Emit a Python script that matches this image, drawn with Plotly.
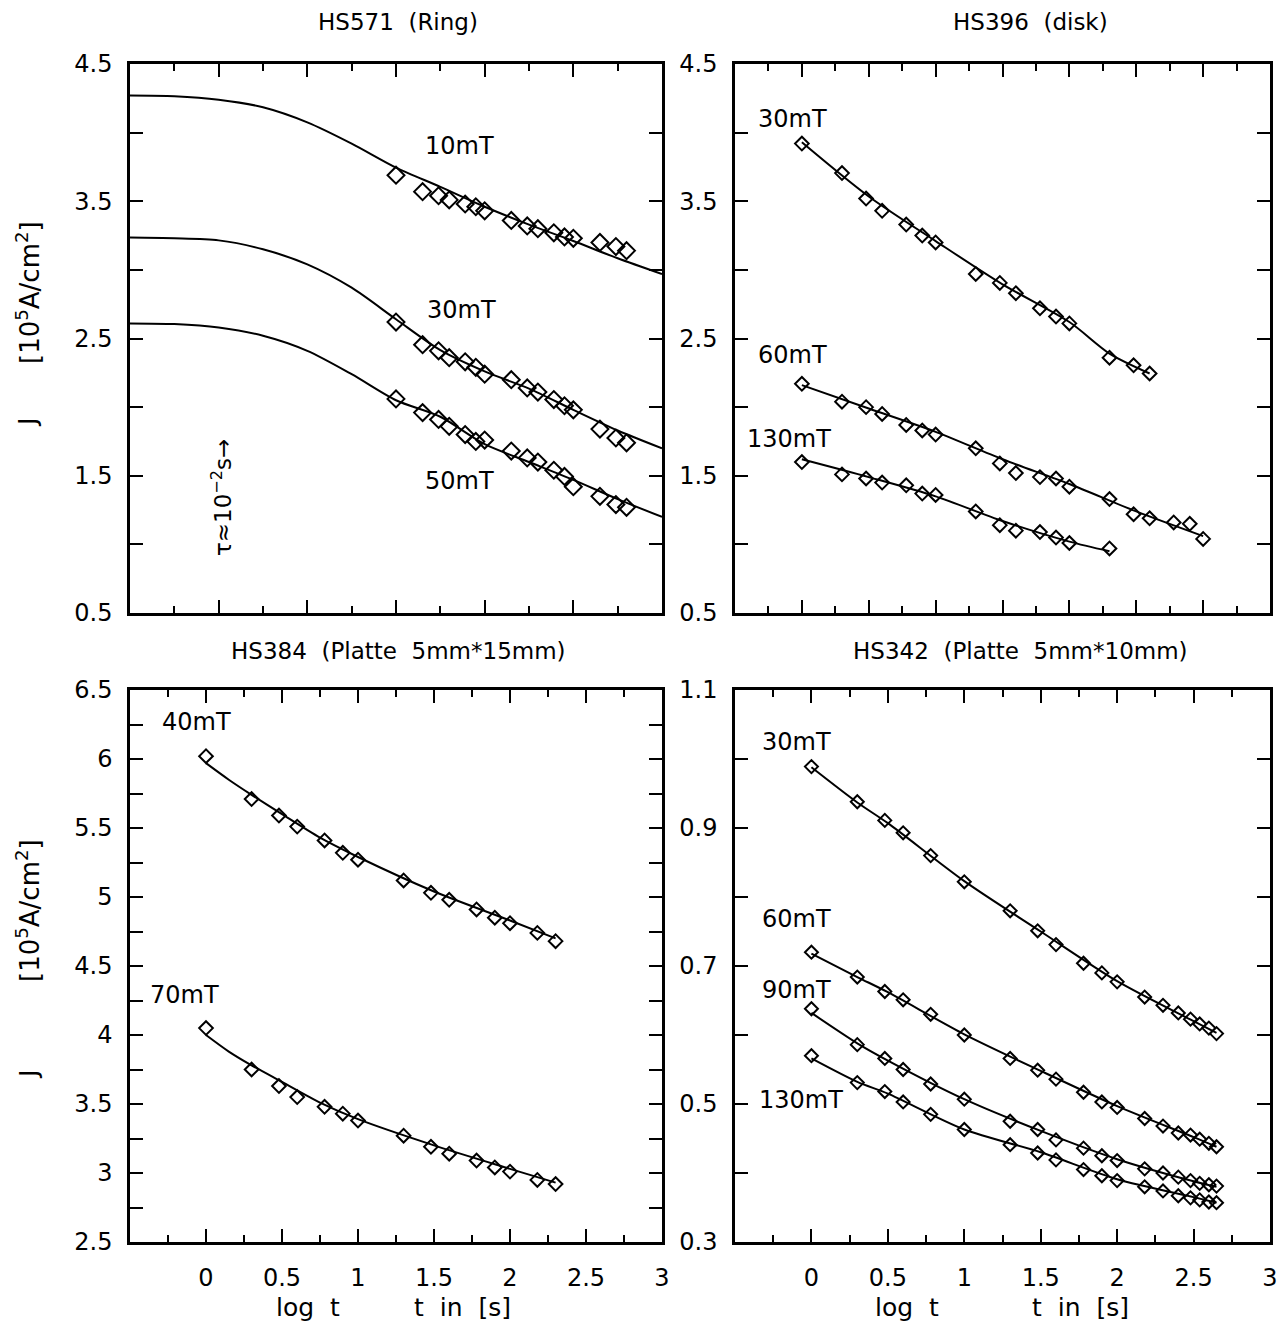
import plotly.graph_objects as go

# ---------------- data ----------------
# HS571 (Ring) - top left
logt_ring = [0, 0.30, 0.48, 0.60, 0.78, 0.90, 1.00, 1.30, 1.48, 1.60, 1.78, 1.90, 2.00, 2.30, 2.48, 2.60]
ring_10 = [3.69, 3.57, 3.54, 3.51, 3.48, 3.46, 3.43, 3.36, 3.32, 3.30, 3.27, 3.24, 3.23, 3.20, 3.17, 3.14]
ring_30 = [2.62, 2.455, 2.41, 2.36, 2.33, 2.29, 2.24, 2.20, 2.14, 2.11, 2.055, 2.01, 1.98, 1.84, 1.775, 1.74]
ring_50 = [2.06, 1.96, 1.91, 1.86, 1.80, 1.75, 1.76, 1.68, 1.63, 1.60, 1.54, 1.495, 1.42, 1.35, 1.29, 1.27]
fitx_ring = [-3, -2.5, -2, -1.5, -1, -0.5, 0, 0.5, 1, 1.5, 2, 2.5, 3]
fit_ring_10 = [4.27, 4.265, 4.24, 4.185, 4.075, 3.92, 3.745, 3.605, 3.46, 3.33, 3.21, 3.085, 2.97]
fit_ring_30 = [3.235, 3.23, 3.215, 3.15, 3.04, 2.87, 2.64, 2.415, 2.26, 2.135, 1.98, 1.83, 1.70]
fit_ring_50 = [2.61, 2.605, 2.58, 2.52, 2.41, 2.24, 2.05, 1.93, 1.73, 1.60, 1.47, 1.33, 1.20]

# HS396 (disk) - top right
logt_disk = [0, 0.30, 0.48, 0.60, 0.78, 0.90, 1.00, 1.30, 1.48, 1.60, 1.78, 1.90, 2.00, 2.30, 2.48, 2.60, 2.78, 2.90, 3.00]
disk_30 = [3.92, 3.705, 3.52, 3.43, 3.33, 3.25, 3.20, 2.97, 2.905, 2.83, 2.72, 2.66, 2.61, 2.36, 2.305, 2.245]
disk_60 = [2.17, 2.04, 2.00, 1.95, 1.87, 1.83, 1.80, 1.70, 1.59, 1.52, 1.49, 1.48, 1.42, 1.33, 1.22, 1.19, 1.16, 1.15, 1.04]
disk_130 = [1.60, 1.51, 1.48, 1.45, 1.43, 1.37, 1.36, 1.24, 1.14, 1.10, 1.09, 1.05, 1.01, 0.97]
fitx_disk_30 = [0, 0.5, 1, 1.5, 2, 2.3, 2.6]
fit_disk_30 = [3.93, 3.535, 3.21, 2.895, 2.62, 2.39, 2.245]
fitx_disk_60 = [0, 0.5, 1, 1.5, 2, 2.5, 3]
fit_disk_60 = [2.16, 1.99, 1.82, 1.62, 1.44, 1.24, 1.06]
fitx_disk_130 = [0, 0.5, 1, 1.5, 2, 2.3]
fit_disk_130 = [1.62, 1.49, 1.35, 1.17, 1.02, 0.95]

# HS384 (Platte 5mm*15mm) - bottom left
logt_p15 = [0, 0.30, 0.48, 0.60, 0.78, 0.90, 1.00, 1.30, 1.48, 1.60, 1.78, 1.90, 2.00, 2.18, 2.30]
p15_40 = [6.02, 5.71, 5.59, 5.51, 5.41, 5.32, 5.27, 5.12, 5.03, 4.98, 4.91, 4.85, 4.81, 4.74, 4.68]
p15_70 = [4.05, 3.75, 3.63, 3.55, 3.48, 3.43, 3.38, 3.27, 3.19, 3.14, 3.09, 3.04, 3.01, 2.95, 2.92]
fitx_p15 = [0, 0.15, 0.3, 0.5, 0.75, 1, 1.5, 2, 2.3]
fit_p15_40 = [5.97, 5.85, 5.74, 5.60, 5.43, 5.29, 5.04, 4.83, 4.70]
fit_p15_70 = [4.00, 3.88, 3.78, 3.66, 3.51, 3.39, 3.20, 3.03, 2.93]

# HS342 (Platte 5mm*10mm) - bottom right
logt_p10 = [0, 0.30, 0.48, 0.60, 0.78, 1.00, 1.30, 1.48, 1.60, 1.78, 1.90, 2.00, 2.18, 2.30, 2.40, 2.48, 2.54, 2.60, 2.65]
p10_30 = [0.989, 0.938, 0.911, 0.893, 0.860, 0.822, 0.780, 0.751, 0.731, 0.704, 0.690, 0.677, 0.655, 0.643, 0.632, 0.623, 0.616, 0.610, 0.602]
p10_60 = [0.720, 0.684, 0.663, 0.651, 0.630, 0.600, 0.566, 0.549, 0.536, 0.517, 0.503, 0.495, 0.479, 0.468, 0.458, 0.455, 0.449, 0.443, 0.438]
p10_90 = [0.638, 0.586, 0.566, 0.550, 0.529, 0.507, 0.475, 0.463, 0.448, 0.436, 0.425, 0.418, 0.406, 0.400, 0.394, 0.389, 0.385, 0.383, 0.381]
p10_130 = [0.570, 0.531, 0.518, 0.503, 0.485, 0.463, 0.441, 0.429, 0.419, 0.405, 0.396, 0.389, 0.380, 0.374, 0.367, 0.364, 0.361, 0.358, 0.357]
fitx_p10 = [0, 0.3, 0.5, 1, 1.5, 2, 2.5, 2.65]
fit_p10_30 = [0.988, 0.937, 0.907, 0.823, 0.750, 0.678, 0.620, 0.603]
fit_p10_60 = [0.718, 0.684, 0.662, 0.601, 0.548, 0.497, 0.452, 0.438]
fit_p10_90 = [0.632, 0.588, 0.563, 0.507, 0.461, 0.420, 0.388, 0.380]
fit_p10_130 = [0.566, 0.532, 0.515, 0.463, 0.430, 0.391, 0.365, 0.357]

# tick definitions
ticks_top_y = [0.5, 1, 1.5, 2, 2.5, 3, 3.5, 4, 4.5]
ticktext_top_y = ["0.5", "", "1.5", "", "2.5", "", "3.5", "", "4.5"]
ticks_p15_y = [2.5, 2.75, 3, 3.25, 3.5, 3.75, 4, 4.25, 4.5, 4.75, 5, 5.25, 5.5, 5.75, 6, 6.25, 6.5]
ticktext_p15_y = ["2.5", "", "3", "", "3.5", "", "4", "", "4.5", "", "5", "", "5.5", "", "6", "", "6.5"]
ticks_p10_y = [0.3, 0.4, 0.5, 0.6, 0.7, 0.8, 0.9, 1.0, 1.1]
ticktext_p10_y = ["0.3", "", "0.5", "", "0.7", "", "0.9", "", "1.1"]
ticks_bottom_x = [0, 0.5, 1, 1.5, 2, 2.5, 3]
ticktext_bottom_x = ["0", "0.5", "1", "1.5", "2", "2.5", "3"]

# ---------------- figure ----------------
W, H = 1284, 1326
FONT = "DejaVu Sans"
fig = go.Figure()

def px_x(p):
    return p / W

def px_y(p):
    return 1 - p / H

dom_x_left = [px_x(130), px_x(662)]
dom_x_right = [px_x(735), px_x(1270)]
dom_y_top = [px_y(613), px_y(64)]
dom_y_bot = [px_y(1242), px_y(690)]

def add_pts(x, y, xa, ya, size):
    fig.add_trace(go.Scatter(x=x[:len(y)], y=y, xaxis=xa, yaxis=ya, mode="markers",
                             marker=dict(symbol="diamond-open", size=size, color="black",
                                         line=dict(width=2, color="black")),
                             showlegend=False, hoverinfo="skip"))

def add_fit(x, y, xa, ya):
    fig.add_trace(go.Scatter(x=x, y=y, xaxis=xa, yaxis=ya, mode="lines",
                             line=dict(color="black", width=2, shape="spline", smoothing=0.8),
                             showlegend=False, hoverinfo="skip"))

# top-left
add_fit(fitx_ring, fit_ring_10, "x", "y")
add_fit(fitx_ring, fit_ring_30, "x", "y")
add_fit(fitx_ring, fit_ring_50, "x", "y")
add_pts(logt_ring, ring_10, "x", "y", 13)
add_pts(logt_ring, ring_30, "x", "y", 13)
add_pts(logt_ring, ring_50, "x", "y", 13)

# top-right
add_fit(fitx_disk_30, fit_disk_30, "x2", "y2")
add_fit(fitx_disk_60, fit_disk_60, "x2", "y2")
add_fit(fitx_disk_130, fit_disk_130, "x2", "y2")
add_pts(logt_disk[:16], disk_30, "x2", "y2", 10.5)
add_pts(logt_disk, disk_60, "x2", "y2", 10.5)
add_pts(logt_disk[:14], disk_130, "x2", "y2", 10.5)

# bottom-left
add_fit(fitx_p15, fit_p15_40, "x3", "y3")
add_fit(fitx_p15, fit_p15_70, "x3", "y3")
add_pts(logt_p15, p15_40, "x3", "y3", 10.5)
add_pts(logt_p15, p15_70, "x3", "y3", 10.5)

# bottom-right
add_fit(fitx_p10, fit_p10_30, "x4", "y4")
add_fit(fitx_p10, fit_p10_60, "x4", "y4")
add_fit(fitx_p10, fit_p10_90, "x4", "y4")
add_fit(fitx_p10, fit_p10_130, "x4", "y4")
add_pts(logt_p10, p10_30, "x4", "y4", 10)
add_pts(logt_p10, p10_60, "x4", "y4", 10)
add_pts(logt_p10, p10_90, "x4", "y4", 10)
add_pts(logt_p10, p10_130, "x4", "y4", 10)

tickfont = dict(family=FONT, size=24, color="black")

def xax(domain, rng, dtick, minor_dtick, anchor, labels):
    d = dict(domain=domain, range=rng, anchor=anchor, showgrid=False, zeroline=False,
             automargin=False,
             showline=True, linecolor="black", linewidth=2.5, mirror="allticks",
             ticks="inside", ticklen=13, tickwidth=2, tickcolor="black",
             minor=dict(ticks="inside", ticklen=7, tickwidth=2, tickcolor="black",
                        dtick=minor_dtick, tick0=0, showgrid=False),
             tickfont=tickfont, fixedrange=True)
    if labels:
        d.update(tickmode="array", tickvals=ticks_bottom_x, ticktext=ticktext_bottom_x,
                 ticklabelstandoff=12)
    else:
        d.update(tick0=0, dtick=dtick, showticklabels=False)
    return d

def yax(domain, rng, tv, tt, anchor):
    return dict(domain=domain, range=rng, anchor=anchor, showgrid=False, zeroline=False,
                automargin=False,
                showline=True, linecolor="black", linewidth=2.5, mirror="allticks",
                ticks="inside", ticklen=13, tickwidth=2, tickcolor="black",
                tickmode="array", tickvals=tv, ticktext=tt, tickfont=tickfont,
                ticklabelstandoff=10, fixedrange=True)

fig.update_layout(
    width=W, height=H,
    margin=dict(l=0, r=0, t=0, b=0, pad=0, autoexpand=False),
    paper_bgcolor="white", plot_bgcolor="white",
    font=dict(family=FONT, color="black"),
    xaxis=xax(dom_x_left, [-3, 3], 1, 0.5, "y", False),
    yaxis=yax(dom_y_top, [0.5, 4.5], ticks_top_y, ticktext_top_y, "x"),
    xaxis2=xax(dom_x_right, [-0.5, 3.5], 0.5, 0.25, "y2", False),
    yaxis2=yax(dom_y_top, [0.5, 4.5], ticks_top_y, ticktext_top_y, "x2"),
    xaxis3=xax(dom_x_left, [-0.5, 3], 0.5, 0.25, "y3", True),
    yaxis3=yax(dom_y_bot, [2.5, 6.5], ticks_p15_y, ticktext_p15_y, "x3"),
    xaxis4=xax(dom_x_right, [-0.5, 3], 0.5, 0.25, "y4", True),
    yaxis4=yax(dom_y_bot, [0.3, 1.1], ticks_p10_y, ticktext_p10_y, "x4"),
)

LS = 24
ann = []
def a_data(text, x, y, xa, ya, size=LS, **kw):
    d = dict(text=text, x=x, y=y, xref=xa, yref=ya, showarrow=False,
             font=dict(family=FONT, size=size, color="black"))
    d.update(kw)
    ann.append(d)

def a_px(text, x, y, size=LS, **kw):
    d = dict(text=text, x=px_x(x), y=px_y(y), xref="paper", yref="paper", showarrow=False,
             font=dict(family=FONT, size=size, color="black"), xanchor="center", yanchor="middle")
    d.update(kw)
    ann.append(d)

# curve labels
a_data("10mT", 0.72, 3.90, "x", "y")
a_data("30mT", 0.74, 2.71, "x", "y")
a_data("50mT", 0.72, 1.46, "x", "y")
a_data("τ≈10<sup>−2</sup>s→", -1.97, 1.34, "x", "y", size=23, textangle=-90)
a_data("30mT", -0.07, 4.10, "x2", "y2")
a_data("60mT", -0.07, 2.38, "x2", "y2")
a_data("130mT", -0.10, 1.77, "x2", "y2")
a_data("40mT", -0.06, 6.27, "x3", "y3")
a_data("70mT", -0.14, 4.29, "x3", "y3")
a_data("30mT", -0.10, 1.025, "x4", "y4")
a_data("60mT", -0.10, 0.768, "x4", "y4")
a_data("90mT", -0.10, 0.665, "x4", "y4")
a_data("130mT", -0.07, 0.506, "x4", "y4")

# panel titles
a_px("HS571  (Ring)", 398, 22, 23)
a_px("HS396  (disk)", 1030, 22, 23)
a_px("HS384  (Platte  5mm*15mm)", 398, 651, 23)
a_px("HS342  (Platte  5mm*10mm)", 1021, 651, 23)

# y axis titles
ybr = "[10<sup>5</sup>A/cm<sup>2</sup>]"
a_px("J", 28, 423, 25, textangle=-90)
a_px(ybr, 28, 293, 26, textangle=-90)
a_px("J", 28, 1075, 25, textangle=-90)
a_px(ybr, 28, 911, 26, textangle=-90)

# x axis titles
a_px("log\u00a0\u00a0t", 274, 1307, 25, xanchor="left")
a_px("t\u00a0\u00a0in\u00a0\u00a0[s]", 513, 1307, 25, xanchor="right")
a_px("log\u00a0\u00a0t", 873, 1307, 25, xanchor="left")
a_px("t\u00a0\u00a0in\u00a0\u00a0[s]", 1131, 1307, 25, xanchor="right")

fig.update_layout(annotations=ann)
fig.write_html("out.html")
